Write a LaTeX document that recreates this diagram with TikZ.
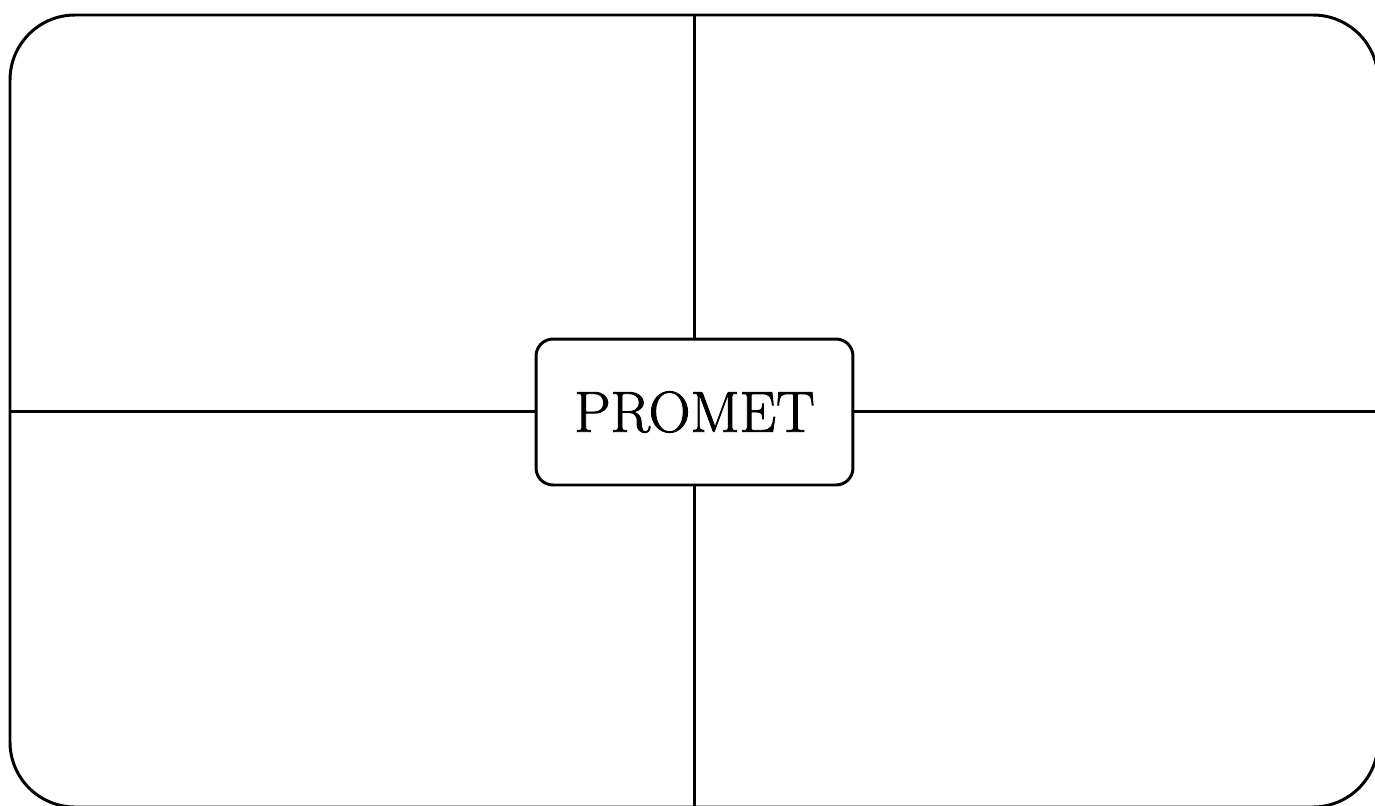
\documentclass[tikz,border=0pt]{standalone}
\usepackage{fontspec}
\newfontfamily\promfont[FakeBold=1.5]{Latin Modern Roman}
\begin{document}
\begin{tikzpicture}[x=0.02cm,y=-0.02cm,
  frame/.style={draw=black,line width=1.7pt,rounded corners=1.3cm},
  link/.style={draw=black,line width=1.7pt},
  center/.style={draw=black,line width=1.7pt,rounded corners=0.34cm,fill=white,
    minimum width=6.34cm,minimum height=2.92cm,inner sep=0pt,
    font=\promfont\fontsize{33}{38}\selectfont}]
\useasboundingbox (0,0) rectangle (1375,805);
\begin{scope}
\clip (0,0) rectangle (1375,805);
\draw[frame] (10,15) rectangle (1378,807);
\coordinate (top) at (694,15);
\coordinate (bot) at (694,807);
\coordinate (lft) at (10,411);
\coordinate (rgt) at (1378,411);
\node[center] (p) at (694.5,412) {PROMET};
\draw[link] (top) -- (p.north -| top);
\draw[link] (p.south -| bot) -- (bot);
\draw[link] (lft) -- (p.west |- lft);
\draw[link] (p.east |- rgt) -- (rgt);
\end{scope}
\end{tikzpicture}
\end{document}
